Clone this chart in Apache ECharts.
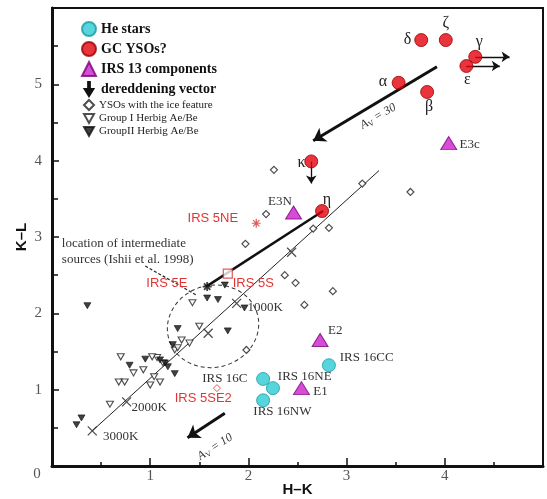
<!DOCTYPE html>
<html><head><meta charset="utf-8">
<script src="https://cdn.jsdelivr.net/npm/echarts@6/dist/echarts.min.js"></script>
<style>html,body{margin:0;padding:0;background:#fff}#c{width:547px;height:499px}</style>
</head><body><div id="c"></div>
<script>
// ---- data (H-K, K-L) ----
const heStars = [[2.15,1.14],[2.25,1.02],[2.15,0.86],[2.82,1.32]];
const gcYSOs = [[3.76,5.58],[4.01,5.58],[4.31,5.36],[4.22,5.24],[3.53,5.02],[3.82,4.90],[2.64,3.99],[2.75,3.34]];
const irs13 = [[2.46,3.32],[4.04,4.23],[2.73,1.65],[2.54,1.02]];
const iceYSOs = [[2.26,3.88],[2.18,3.30],[1.97,2.91],[2.66,3.11],[2.82,3.12],[3.16,3.70],[2.37,2.50],[2.48,2.40],[2.86,2.29],[2.57,2.11],[1.98,1.52],[3.65,3.59]];
const groupI = [[0.70,1.43],[0.83,1.22],[0.68,1.10],[0.74,1.10],[0.59,0.81],[0.93,1.26],[1.04,1.17],[1.10,1.10],[1.00,1.06],[1.07,1.42],[1.13,1.35],[1.02,1.43],[1.43,2.14],[1.50,1.83],[1.32,1.65],[1.40,1.61],[1.25,1.52],[1.28,1.55]];
const groupII = [[0.36,2.10],[0.25,0.54],[0.30,0.63],[0.79,1.32],[1.25,1.21],[1.58,2.20],[1.69,2.18],[1.79,1.77],[1.28,1.80],[1.96,2.07],[1.23,1.59],[1.15,1.35],[1.18,1.30],[1.10,1.39],[1.76,2.37],[0.95,1.40]];
const tempLine = [[0.41,0.46],[3.33,3.87]];
const tempMarks = [[0.41,0.46],[0.76,0.84],[1.59,1.74],[1.88,2.13],[2.44,2.80]];
const irs5Line = [[1.57,2.35],[2.76,3.34]];
const leaderLine = [[0.95,2.62],[1.47,2.24]];
const avArrows = [[[3.92,5.23],[2.66,4.26]],[[1.76,0.69],[1.38,0.37]]];
const motionArrows = [[[4.31,5.36],[4.66,5.36]],[[4.22,5.24],[4.56,5.24]],[[2.64,3.99],[2.64,3.70]]];
const irs5NE = [[2.08,3.18]];
const irs5S = [[1.79,2.52]];
const irs5SE2 = [[1.68,1.02]];
const irs5E = [[1.58,2.35]];
const ellipseCenter = [1.64,1.83];
// labels: [text, x, y]
const greekLabels = [['δ',3.62,5.58],['ζ',4.01,5.81],['γ',4.35,5.56],['ε',4.23,5.06],['α',3.37,5.03],['β',3.84,4.71],['κ',2.54,3.97],['η',2.80,3.49]];
const blackLabels = [['E3N',2.20,3.47],['E3c',4.15,4.21],['E2',2.81,1.78],['E1',2.66,0.97],['IRS 16CC',2.93,1.42],['IRS 16NE',2.30,1.17],['IRS 16C',1.53,1.15],['IRS 16NW',2.05,0.71],['1000K',1.99,2.07],['2000K',0.81,0.76],['3000K',0.52,0.38],['location of intermediate',0.10,2.91],['sources (Ishii et al. 1998)',0.10,2.70]];
const redLabels = [['IRS 5NE',1.38,3.24],['IRS 5E',0.96,2.39],['IRS 5S',1.84,2.39],['IRS 5SE2',1.25,0.89]];
const avLabels = [['30',3.32,4.58,30],['10',1.66,0.25,33]];

const chart = echarts.init(document.getElementById('c'));
const serif = 'Liberation Serif';
const downTri = 'path://M0,0L10,0L5,9Z';
const arrowIcon = 'path://M4,0H6V8H10L5,16L0,8H4Z';
const crossSym = 'path://M0,0L10,10M10,0L0,10';
const asterisk = 'path://M5,0V10M0,5H10M1.5,1.5L8.5,8.5M8.5,1.5L1.5,8.5';

const option = {
  animation: false,
  backgroundColor: '#fff',
  grid: {left: 52, right: 4, top: 8, bottom: 33, show: true, borderColor: '#111', borderWidth: 2, outerBoundsMode: 'none', containLabel: false},
  legend: [{
    left: 81, top: 21, padding: 0, orient: 'vertical', itemGap: 4, itemWidth: 14, itemHeight: 14,
    selectedMode: false,
    textStyle: {fontFamily: serif, fontWeight: 'bold', fontSize: 14, color: '#111'},
    data: [
      {name: 'He stars', icon: 'circle'},
      {name: 'GC YSOs?', icon: 'circle'},
      {name: 'IRS 13 components', icon: 'triangle'},
      {name: 'dereddening vector', icon: arrowIcon, itemStyle: {color: '#111'}}
    ]
  }, {
    left: 83, top: 99, padding: 0, orient: 'vertical', itemGap: 2, itemWidth: 10, itemHeight: 10,
    selectedMode: false,
    textStyle: {fontFamily: serif, fontSize: 11, color: '#222'},
    data: [
      {name: 'YSOs with the ice feature', icon: 'diamond'},
      {name: 'Group I Herbig Ae/Be', icon: downTri},
      {name: 'GroupII Herbig Ae/Be', icon: downTri}
    ]
  }],
  xAxis: {
    type: 'value', min: 0, max: 5, interval: 1,
    name: 'H–K', nameLocation: 'middle', nameGap: 16, nameMoveOverlap: false,
    nameTextStyle: {fontFamily: 'Liberation Sans', fontWeight: 'bold', fontSize: 15, color: '#111'},
    axisLine: {show: true, lineStyle: {color: '#111', width: 3}},
    axisTick: {show: true, inside: true, length: 8, lineStyle: {color: '#111', width: 1.5}},
    minorTick: {show: true, splitNumber: 2, length: 4, lineStyle: {color: '#111', width: 1.5}},
    splitLine: {show: false},
    axisLabel: {margin: 3, fontFamily: serif, fontSize: 15, color: '#555', formatter: v => (v >= 1 && v <= 4) ? String(v) : ''}
  },
  yAxis: {
    type: 'value', min: 0, max: 6, interval: 1,
    name: 'K–L', nameLocation: 'middle', nameGap: 23, nameRotate: 90, nameMoveOverlap: false,
    nameTextStyle: {fontFamily: 'Liberation Sans', fontWeight: 'bold', fontSize: 15, color: '#111'},
    axisLine: {show: true, lineStyle: {color: '#111', width: 3}},
    axisTick: {show: true, inside: true, length: 7, lineStyle: {color: '#111', width: 1.5}},
    minorTick: {show: true, splitNumber: 2, length: 6, lineStyle: {color: '#111', width: 1.5}},
    splitLine: {show: false},
    axisLabel: {margin: 10, fontFamily: serif, fontSize: 15, color: '#555', formatter: v => (v >= 1 && v <= 5) ? String(v) : ''}
  },
  series: [
    {name: 'thin', type: 'line', data: tempLine, symbol: 'none', lineStyle: {color: '#222', width: 1}, z: 1},
    {name: 'marks', type: 'scatter', data: tempMarks, symbol: crossSym, symbolSize: 9,
      itemStyle: {color: 'none', borderColor: '#222', borderWidth: 1.3}, z: 2},
    {name: 'irs5', type: 'line', data: irs5Line, symbol: 'none', lineStyle: {color: '#111', width: 2.5}, z: 2},
    {name: 'leader', type: 'line', data: leaderLine, symbol: 'none', lineStyle: {color: '#222', width: 1.2, type: [3, 2]}, z: 2},
    {name: 'dereddening vector', type: 'lines', coordinateSystem: 'cartesian2d', polyline: false,
      data: avArrows.map(c => ({coords: c})), symbol: ['none', 'arrow'], symbolSize: 12,
      lineStyle: {color: '#111', width: 3, opacity: 1}, itemStyle: {color: '#111'}, z: 3},
    {name: 'motion', type: 'lines', coordinateSystem: 'cartesian2d',
      data: motionArrows.map(c => ({coords: c})), symbol: ['none', 'arrow'], symbolSize: 8,
      lineStyle: {color: '#111', width: 1.3, opacity: 1}, z: 3},
    {name: 'YSOs with the ice feature', type: 'scatter', data: iceYSOs, symbol: 'diamond', symbolSize: 7,
      itemStyle: {color: '#fff', borderColor: '#222', borderWidth: 1.2}, z: 4},
    {name: 'Group I Herbig Ae/Be', type: 'scatter', data: groupI, symbol: downTri, symbolSize: [7, 6],
      itemStyle: {color: '#fff', borderColor: '#222', borderWidth: 1.1}, z: 4},
    {name: 'GroupII Herbig Ae/Be', type: 'scatter', data: groupII, symbol: downTri, symbolSize: [7, 6],
      itemStyle: {color: '#111', borderColor: '#111', borderWidth: 0.8}, z: 4},
    {name: 'irs5NE', type: 'scatter', data: irs5NE, symbol: asterisk, symbolSize: 9,
      itemStyle: {color: 'none', borderColor: '#e03030', borderWidth: 1.2}, z: 5},
    {name: 'irs5S', type: 'scatter', data: irs5S, symbol: 'rect', symbolSize: 9,
      itemStyle: {color: '#fff', borderColor: '#d83030', borderWidth: 1.2}, z: 5},
    {name: 'irs5SE2', type: 'scatter', data: irs5SE2, symbol: 'diamond', symbolSize: 7,
      itemStyle: {color: '#fff', borderColor: '#e03030', borderWidth: 1}, z: 5},
    {name: 'irs5E', type: 'scatter', data: irs5E, symbol: asterisk, symbolSize: 9,
      itemStyle: {color: 'none', borderColor: '#111', borderWidth: 1.8}, z: 5},
    {name: 'He stars', type: 'scatter', data: heStars, symbol: 'circle', symbolSize: 13,
      itemStyle: {color: '#2ccbd3', borderColor: '#1a9aa0', borderWidth: 1}, z: 6},
    {name: 'GC YSOs?', type: 'scatter', data: gcYSOs, symbol: 'circle', symbolSize: 13,
      itemStyle: {color: '#e4000c', borderColor: '#9a0000', borderWidth: 1}, z: 6},
    {name: 'IRS 13 components', type: 'scatter', data: irs13, symbol: 'triangle', symbolSize: [16, 13],
      itemStyle: {color: '#cc1fcc', borderColor: '#7a007a', borderWidth: 1}, z: 6}
  ]
};
chart.setOption(option);

const px = (x, y) => chart.convertToPixel({gridIndex: 0}, [x, y]);
const g = [];
greekLabels.forEach(([t, x, y]) => {
  const p = px(x, y);
  g.push({type: 'text', x: p[0], y: p[1], z: 10, style: {text: t, fill: '#222', font: '16px "Liberation Serif"', align: 'center', verticalAlign: 'middle'}});
});
blackLabels.forEach(([t, x, y]) => {
  const p = px(x, y);
  g.push({type: 'text', x: p[0], y: p[1], z: 10, style: {text: t, fill: '#333', font: '13px "Liberation Serif"', align: 'left', verticalAlign: 'middle'}});
});
redLabels.forEach(([t, x, y]) => {
  const p = px(x, y);
  g.push({type: 'text', x: p[0], y: p[1], z: 10, style: {text: t, fill: '#e03535', font: '13px "Liberation Sans"', align: 'left', verticalAlign: 'middle'}});
});
avLabels.forEach(([v, x, y, rot]) => {
  const p = px(x, y);
  g.push({type: 'text', x: p[0], y: p[1], rotation: rot * Math.PI / 180, z: 10,
    style: {text: '{a|A}{s|V}{a| = ' + v + '}', align: 'center', verticalAlign: 'middle', fill: '#333',
      rich: {a: {fontFamily: serif, fontSize: 12, fontStyle: 'italic', fill: '#333'}, s: {fontFamily: serif, fontSize: 8, fill: '#333', verticalAlign: 'bottom', padding: [6, 0, 0, 0]}}}});
});
const o = px(0, 0);
g.push({type: 'text', x: o[0] - 15, y: o[1] + 8, style: {text: '0', fill: '#555', font: '15px "Liberation Serif"', align: 'center', verticalAlign: 'middle'}});
const ec = px(ellipseCenter[0], ellipseCenter[1]);
g.push({type: 'ellipse', x: ec[0], y: ec[1], rotation: 15 * Math.PI / 180, z: 3,
  shape: {cx: 0, cy: 0, rx: 46, ry: 41}, style: {fill: 'none', stroke: '#333', lineWidth: 1, lineDash: [4, 3]}});
chart.setOption({graphic: g});
</script>
</body></html>
